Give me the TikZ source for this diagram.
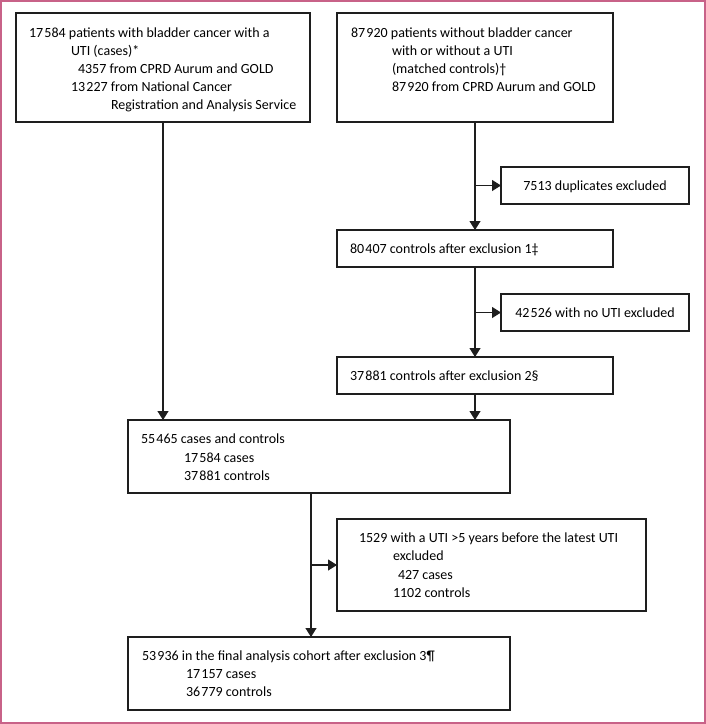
\documentclass[tikz,border=0pt]{standalone}
\usepackage{fontspec}
\setmainfont{Carlito}
\usetikzlibrary{arrows.meta,calc}
\definecolor{frame}{RGB}{200,98,136}
\definecolor{ink}{RGB}{30,30,30}
\newcommand{\ts}{\hspace{0.09em}}
\begin{document}
\begin{tikzpicture}[x=1pt,y=-1pt,
  box/.style={draw=ink,line width=1.2pt,anchor=north west,inner sep=0pt,outer sep=0pt},
  txt/.style={anchor=base west,inner sep=0pt,outer sep=0pt,text=black,font=\fontsize{14}{16}\selectfont},
  ctxt/.style={anchor=base,inner sep=0pt,outer sep=0pt,text=black,font=\fontsize{14}{16}\selectfont},
  arr/.style={draw=ink,line width=1.2pt,-{Triangle[width=11pt,length=9pt]}}]
\useasboundingbox (0,0) rectangle (706,724);
\draw[frame,line width=2pt] (1,1) rectangle (705,723);
% boxes
\node[box,minimum width=294pt,minimum height=109pt] (A) at (16,13) {};
\node[box,minimum width=276pt,minimum height=109pt] (B) at (337,13) {};
\node[box,minimum width=188pt,minimum height=37pt] (D) at (501,167) {};
\node[box,minimum width=276pt,minimum height=37pt] (E1) at (337,230) {};
\node[box,minimum width=188pt,minimum height=37pt] (N) at (501,294) {};
\node[box,minimum width=276pt,minimum height=37pt] (E2) at (337,357) {};
\node[box,minimum width=382pt,minimum height=73pt] (M) at (128,420) {};
\node[box,minimum width=309pt,minimum height=92pt] (X) at (337,519) {};
\node[box,minimum width=382pt,minimum height=73pt] (F) at (128,637) {};
% texts
\node[txt] (a1) at (29,37) {17\ts584 patients with bladder cancer with a};
\node[txt] (a2) at (71,55) {UTI (cases)*};
\node[txt] (a3) at (78,73) {4357 from CPRD Aurum and GOLD};
\node[txt] (a4) at (71,91) {13\ts227 from National Cancer};
\node[txt] (a5) at (111,109) {Registration and Analysis Service};
\node[txt] (b1) at (351,37) {87\ts920 patients without bladder cancer};
\node[txt] (b2) at (392,55) {with or without a UTI};
\node[txt] (b3) at (392,73) {(matched controls)\textdagger};
\node[txt] (b4) at (392,91) {87\ts920 from CPRD Aurum and GOLD};
\node[ctxt] (d1) at ($(D.center)+(0,4.5)$) {7513 duplicates excluded};
\node[txt] (e1) at (350,253.5) {80\ts407 controls after exclusion 1\textdaggerdbl};
\node[ctxt] (n1) at ($(N.center)+(0,4.5)$) {42\ts526 with no UTI excluded};
\node[txt] (e2) at (350,380) {37\ts881 controls after exclusion 2\S};
\node[txt] (m1) at (141,443.5) {55\ts465 cases and controls};
\node[txt] (m2) at (184,462) {17\ts584 cases};
\node[txt] (m3) at (184,480) {37\ts881 controls};
\node[txt] (x1) at (359,542.5) {1529 with a UTI >5 years before the latest UTI};
\node[txt] (x2) at (393,560.5) {excluded};
\node[txt] (x3) at (398,579) {427 cases};
\node[txt] (x4) at (393,597) {1102 controls};
\node[txt] (f1) at (142,660.7) {53\ts936 in the final analysis cohort after exclusion 3\P};
\node[txt] (f2) at (186,678) {17\ts157 cases};
\node[txt] (f3) at (186,696) {36\ts779 controls};
% connectors
\draw[arr] (A.south) -- (A.south |- M.north);
\draw[arr] (B.south) -- (E1.north -| B.south);
\draw[arr] (B.south |- D.west) -- (D.west);
\draw[arr] (E1.south -| B.south) -- (E2.north -| B.south);
\draw[arr] (B.south |- N.west) -- (N.west);
\draw[arr] (E2.south -| B.south) -- (M.north -| B.south);
\coordinate (j) at ($(M.south west)+(183,0)$);
\draw[arr] (j) -- (j |- F.north);
\draw[arr] (j |- X.west) -- (X.west);
\end{tikzpicture}
\end{document}
